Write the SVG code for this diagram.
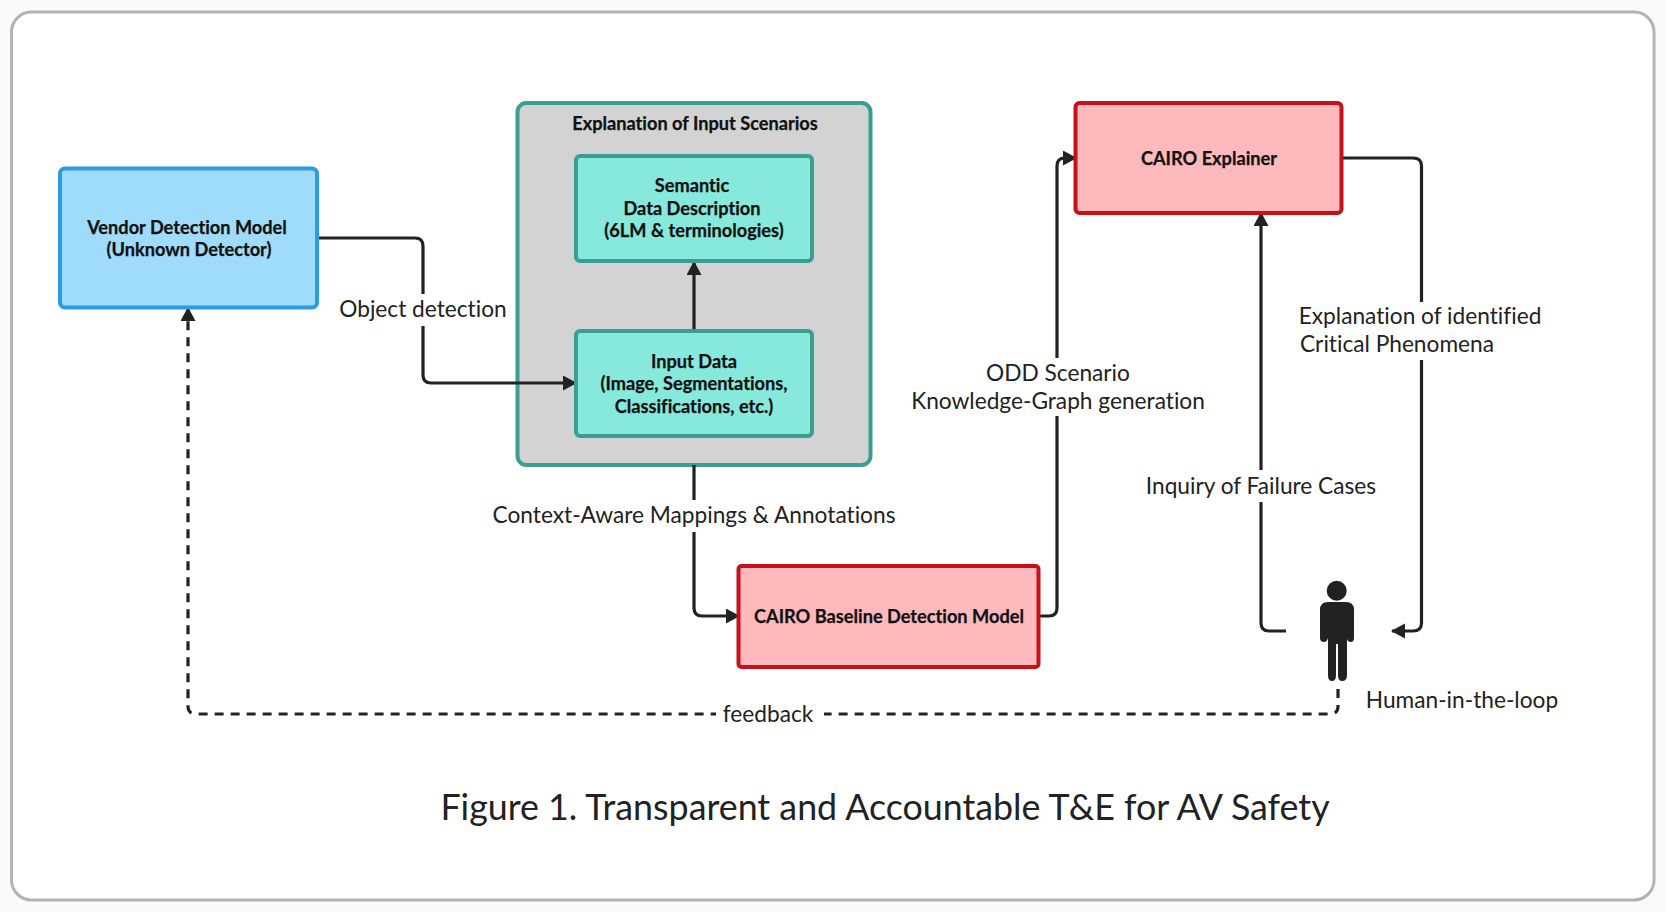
<svg xmlns="http://www.w3.org/2000/svg" width="1666" height="912" viewBox="0 0 1666 912">
<style>
text{font-family:"Lato","Liberation Sans",sans-serif;fill:#222;text-anchor:middle;font-variant-ligatures:none}
.b{font-weight:700;font-size:18.2px;fill:#111;stroke:#111;stroke-width:.25px}
.l{font-size:22.7px}
.box{stroke-width:4}
.blue{fill:#9fdcfb;stroke:#2d9ae4}
.teal{fill:#87e8dc;stroke:#3a9f92}
.red{fill:#feb9bc;stroke:#c6111a}
.c{fill:none;stroke:#222;stroke-width:3.2}
.d{stroke-dasharray:9 7}
</style>
<defs><marker id="a" markerUnits="userSpaceOnUse" markerWidth="16" markerHeight="16" refX="13" refY="7.5" orient="auto"><path d="M0 0L14 7.5L0 15Z" fill="#222"/></marker></defs>
<rect x="0" y="0" width="1666" height="912" fill="#fafafa"/>
<rect x="11.5" y="12" width="1642.500" height="888" rx="20" fill="#fff" stroke="#b3b3b3" stroke-width="3"/>
<g id="n-explanation"><rect x="517.500" y="103" width="353" height="362" rx="9" fill="#d3d3d3" stroke="#3a9f92" stroke-width="4"/><text class="b" x="695" y="130">Explanation of Input Scenarios</text></g>
<g id="connectors">
<path class="c" d="M317 238H415Q423 238 423 246V375Q423 383 431 383H576" marker-end="url(#a)"/>
<path class="c" d="M694 329V262" marker-end="url(#a)"/>
<path class="c" d="M694 465V608Q694 616 702 616H739" marker-end="url(#a)"/>
<path class="c" d="M1039 616H1049Q1057 616 1057 608V166Q1057 158 1065 158H1076" marker-end="url(#a)"/>
<path class="c" d="M1342 158H1413Q1421.500 158 1421.500 166V623Q1421.500 631 1413 631H1392" marker-end="url(#a)"/>
<path class="c" d="M1286 631H1269Q1261 631 1261 623V213" marker-end="url(#a)"/>
<path class="c d" d="M1338 689V706Q1338 714 1330 714H196Q188 714 188 706V308" marker-end="url(#a)"/>
</g>
<g id="n-vendor"><rect class="box blue" x="60" y="168.500" width="257" height="139" rx="5"/><text class="b" x="187" y="234">Vendor Detection Model</text><text class="b" x="189" y="256">(Unknown Detector)</text></g>
<g id="n-semantic"><rect class="box teal" x="576" y="156" width="236" height="105" rx="4"/><text class="b" x="692" y="192">Semantic</text><text class="b" x="692" y="215">Data Description</text><text class="b" x="694" y="237">(6LM &amp; terminologies)</text></g>
<g id="n-input"><rect class="box teal" x="576" y="331" width="236" height="105" rx="4"/><text class="b" x="694" y="368">Input Data</text><text class="b" x="694" y="390">(Image, Segmentations,</text><text class="b" x="694" y="413">Classifications, etc.)</text></g>
<g id="n-baseline"><rect class="box red" x="738.500" y="566" width="300" height="101" rx="3"/><text class="b" x="889" y="623">CAIRO Baseline Detection Model</text></g>
<g id="n-explainer"><rect class="box red" x="1075.500" y="103" width="266" height="110" rx="4"/><text class="b" x="1209" y="165">CAIRO Explainer</text></g>
<g id="n-human">
<circle cx="1336.700" cy="590.700" r="10" fill="#222"/>
<path d="M1328 602H1346Q1354 602 1354 610V638Q1354 642 1351 642Q1347 642 1347 638V615V675Q1347 681 1342 681Q1338 681 1338 675V644H1336V675Q1336 681 1332 681Q1328 681 1328 675V615V638Q1327 642 1324 642Q1320 642 1320 638V610Q1320 602 1328 602Z" fill="#222"/>
</g>
<g id="labels">
<rect x="333" y="294" width="180" height="32" fill="#fff"/><text class="l" x="423" y="317">Object detection</text>
<rect x="488" y="500" width="410" height="32" fill="#fff"/><text class="l" x="694" y="522.500">Context-Aware Mappings &amp; Annotations</text>
<rect x="905" y="358" width="305" height="58" fill="#fff"/><text class="l" x="1058" y="380.500">ODD Scenario</text><text class="l" x="1058" y="408.500">Knowledge-Graph generation</text>
<rect x="1140" y="470" width="244" height="32" fill="#fff"/><text class="l" x="1261" y="493.500">Inquiry of Failure Cases</text>
<rect x="1298" y="302" width="248" height="58" fill="#fff"/><text class="l" x="1420" y="323.500">Explanation of identified</text><text class="l" x="1397" y="352">Critical Phenomena</text>
<text class="l" x="1462" y="707.500">Human-in-the-loop</text>
<rect x="716" y="698" width="108" height="30" fill="#fff"/><text class="l" x="768" y="721.500">feedback</text>
<text x="885" y="820" font-size="35.8px">Figure 1. Transparent and Accountable T&amp;E for AV Safety</text>
</g>
</svg>
